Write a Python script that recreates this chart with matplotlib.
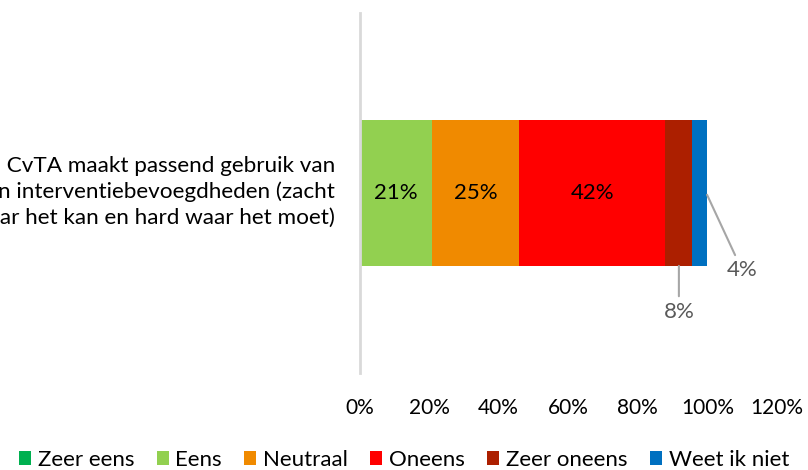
import matplotlib
matplotlib.use("Agg")
import matplotlib.pyplot as plt

plt.rcParams["font.family"] = ["Lato", "DejaVu Sans"]

# ─── Data ─────────────────────────────────────────────────────────────────────
question = ("De CvTA maakt passend gebruik van\n"
            "zijn interventiebevoegdheden (zacht\n"
            "waar het kan en hard waar het moet)")
series = ["Zeer eens", "Eens", "Neutraal", "Oneens", "Zeer oneens", "Weet ik niet"]
values = [0.0, 20.8, 25.0, 42.1, 7.8, 4.2]
colors = ["#00b050", "#92d050", "#f08a00", "#ff0000", "#ac1f00", "#0070c0"]
x_ticks = [0, 20, 40, 60, 80, 100, 120]

# ─── Figure ───────────────────────────────────────────────────────────────────
W, H = 808, 470
fig = plt.figure(figsize=(W / 100, H / 100), dpi=100)
ax = fig.add_axes([359.5 / W, 1 - 373 / H, (777 - 359.5) / W, 360 / H])

left = 0.0
for name, val, col in zip(series, values, colors):
    ax.barh(0, val, left=left, height=0.405, color=col, label=name)
    left += val

# inside labels for the big segments
cum = 0.0
centers = []
for val in values:
    centers.append(cum + val / 2)
    cum += val
for i in (1, 2, 3):
    ax.text(centers[i], 0, f"{values[i]:.0f}%", ha="center", va="center",
            fontsize=16, color="#000000")

# outside labels with leader lines
grey = "#a6a6a6"
ax.annotate(f"{values[4]:.0f}%", xy=(centers[4], -0.2025), xytext=(centers[4], -0.33),
            ha="center", va="center", fontsize=16, color="#595959",
            arrowprops=dict(arrowstyle="-", color=grey, lw=1.5, shrinkA=2, shrinkB=0))
ax.annotate(f"{values[5]:.0f}%", xy=(sum(values), -0.005), xytext=(110, -0.215),
            ha="center", va="center", fontsize=16, color="#595959",
            arrowprops=dict(arrowstyle="-", color=grey, lw=1.5, shrinkA=2, shrinkB=0))

ax.set_xlim(0, 120)
ax.set_ylim(-0.5, 0.5)
ax.set_xticks(x_ticks)
ax.set_xticklabels([f"{t}%" for t in x_ticks])
ax.tick_params(axis="x", length=0, pad=18, labelsize=15, labelcolor="#000000")
ax.set_yticks([])
for side in ("top", "right", "bottom"):
    ax.spines[side].set_visible(False)
ax.spines["left"].set_color("#d9d9d9")
ax.spines["left"].set_linewidth(2)

fig.text(335 / W, 1 - 192 / H, question, ha="right", va="center",
         fontsize=16.2, linespacing=1.35, color="#000000")

fig.legend(loc="center", bbox_to_anchor=(0.5, 1 - 460 / H), ncol=6, frameon=False,
           fontsize=16, handlelength=0.55, handleheight=0.55, handletextpad=0.3,
           columnspacing=1.0, borderaxespad=0)

fig.savefig("out.png", dpi=100)
